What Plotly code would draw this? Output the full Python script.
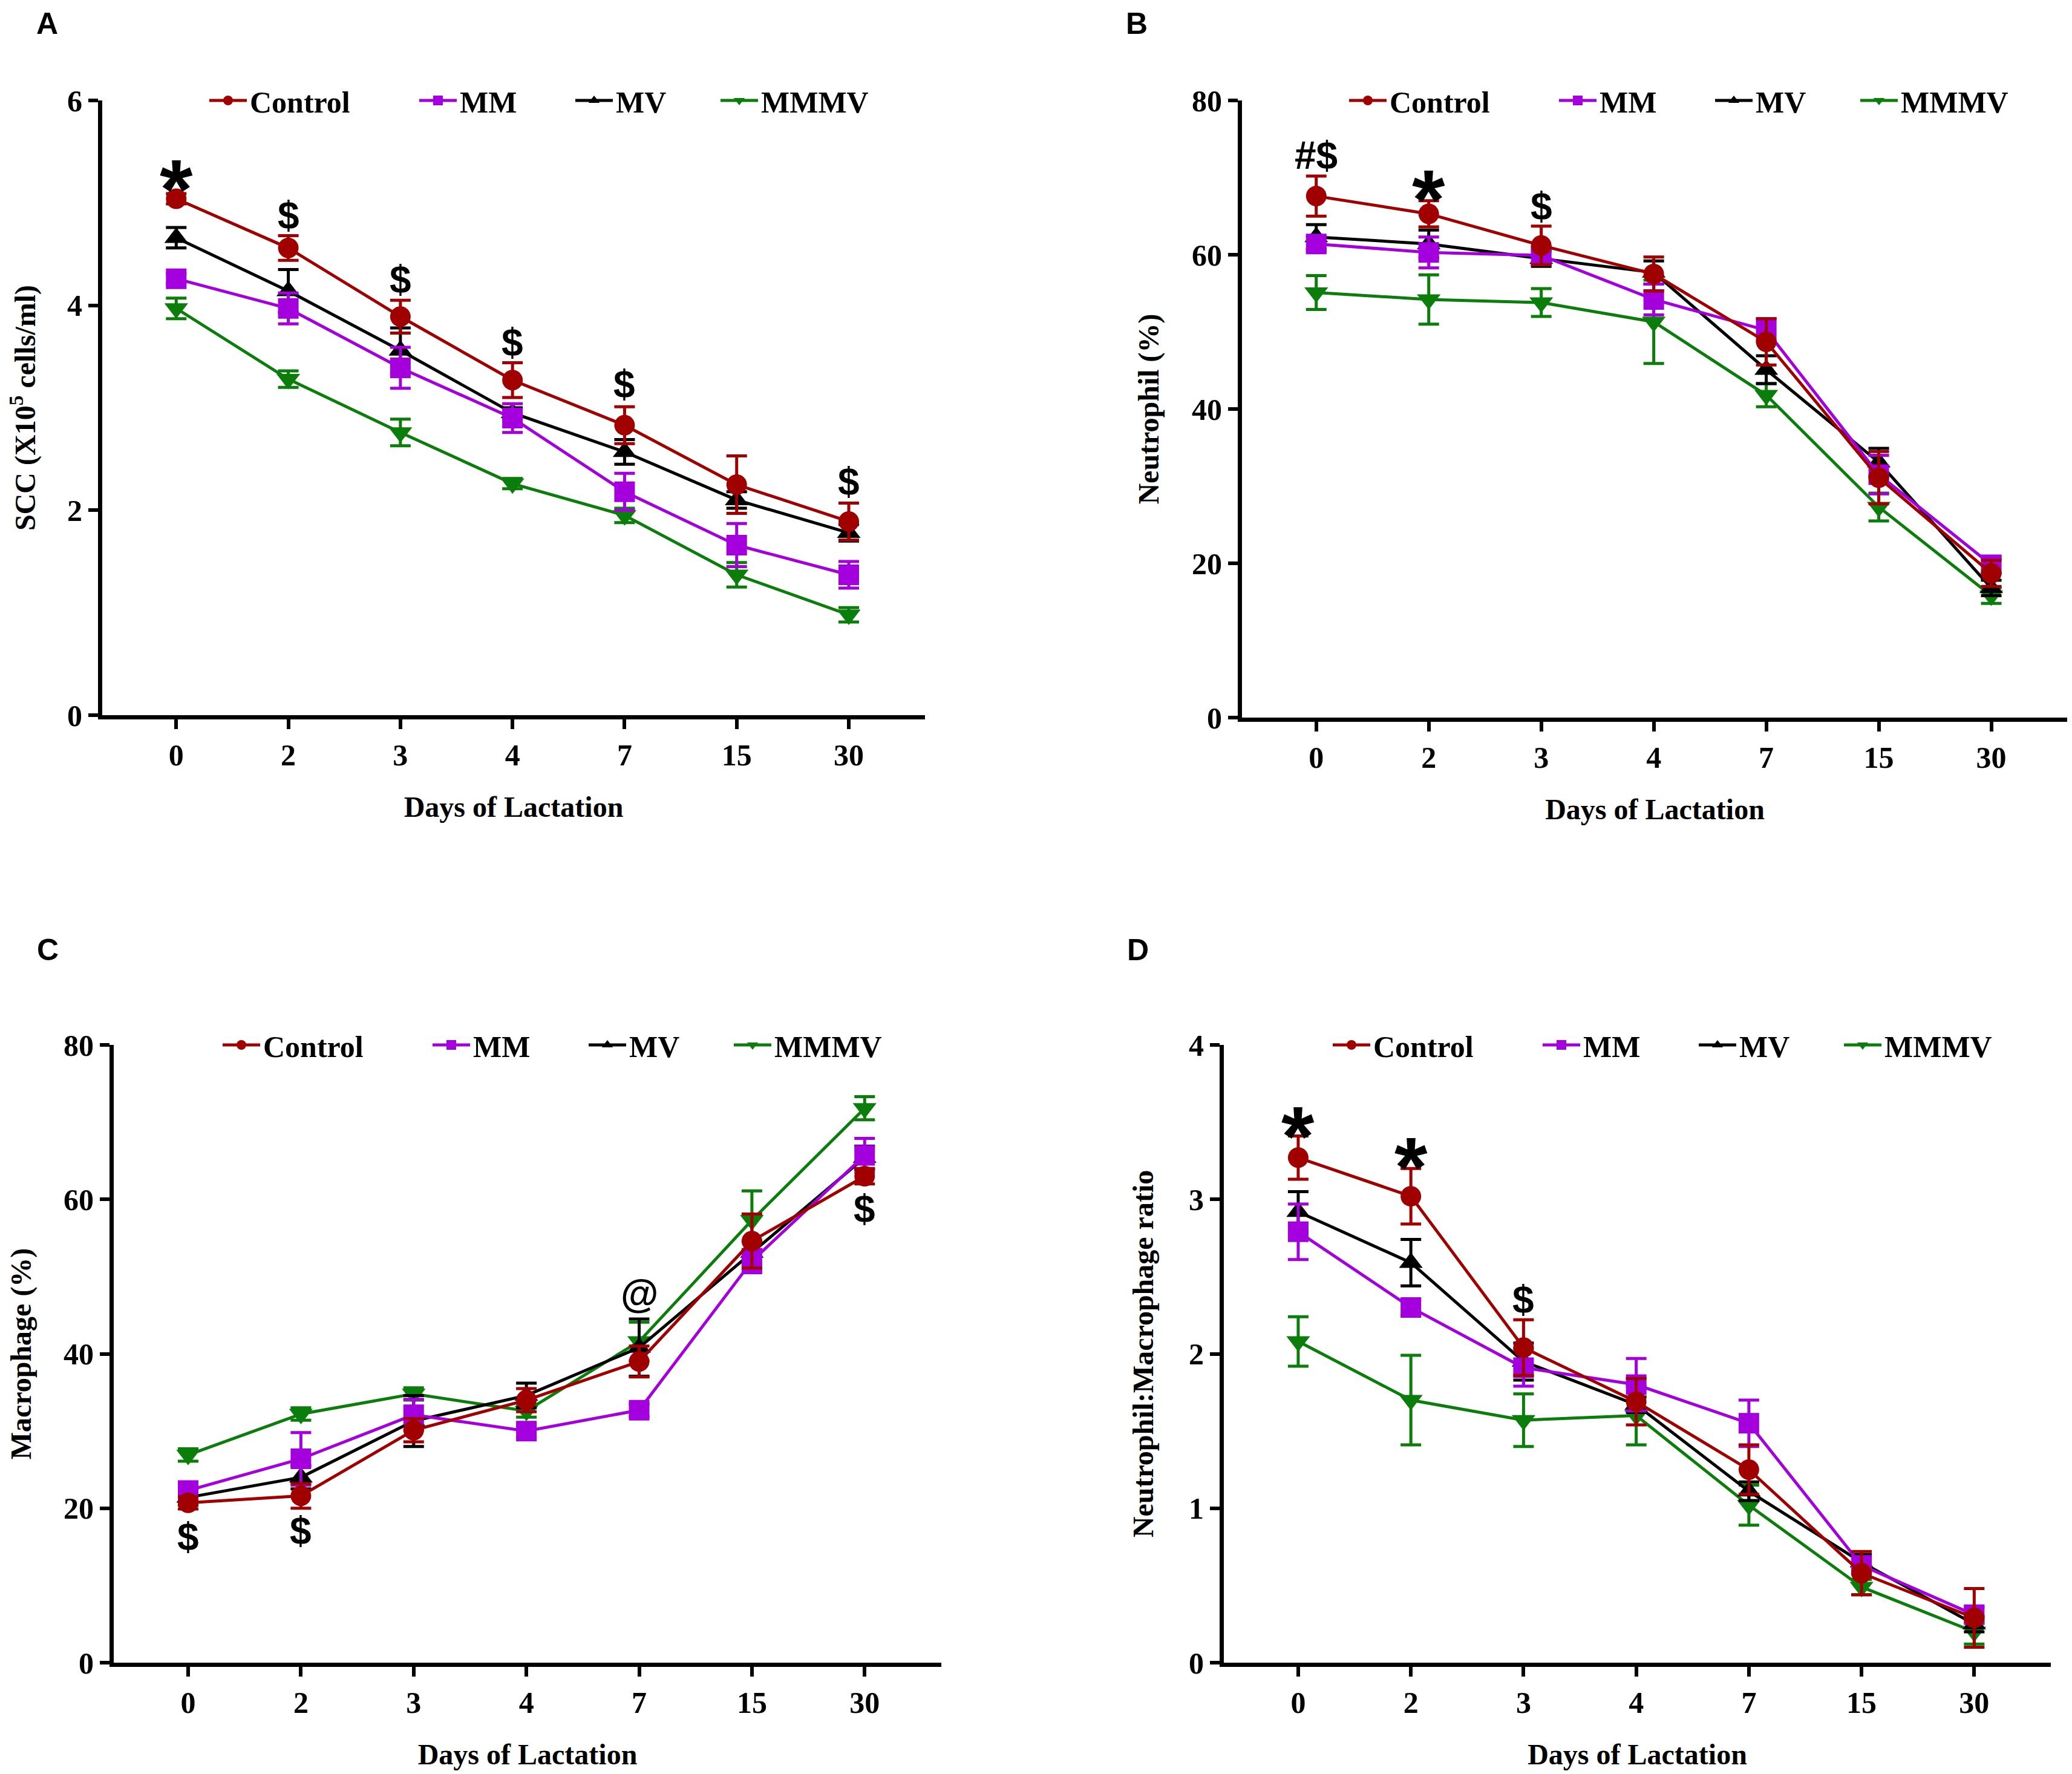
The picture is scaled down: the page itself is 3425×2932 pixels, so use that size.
import plotly.graph_objects as go

# days of lactation (category ticks) and groups
days = ["0", "2", "3", "4", "7", "15", "30"]
groups = ["Control", "MM", "MV", "MMMV"]
colors = ["#A00000", "#A300DD", "#000000", "#0B7D0B"]
symbols = ["circle", "square", "triangle-up", "triangle-down"]

# A - SCC (X10^5 cells/ml)
scc_control = [5.04, 4.56, 3.89, 3.27, 2.83, 2.25, 1.89]
scc_control_err = [0.05, 0.12, 0.16, 0.17, 0.18, 0.28, 0.18]
scc_mm = [4.26, 3.97, 3.39, 2.90, 2.18, 1.66, 1.37]
scc_mm_err = [0.05, 0.15, 0.20, 0.14, 0.18, 0.21, 0.13]
scc_mv = [4.66, 4.14, 3.56, 2.95, 2.57, 2.10, 1.78]
scc_mv_err = [0.10, 0.21, 0.22, 0.05, 0.12, 0.08, 0.08]
scc_mmmv = [3.97, 3.28, 2.76, 2.26, 1.95, 1.37, 0.98]
scc_mmmv_err = [0.10, 0.08, 0.13, 0.05, 0.07, 0.12, 0.07]

# B - Neutrophil (%)
neu_control = [67.6, 65.3, 61.2, 57.5, 48.7, 31.1, 18.7]
neu_control_err = [2.6, 1.7, 2.5, 2.2, 3.0, 3.4, 1.7]
neu_mm = [61.4, 60.3, 59.9, 54.2, 50.2, 31.5, 19.8]
neu_mm_err = [1.0, 2.0, 1.0, 2.0, 1.5, 2.5, 1.0]
neu_mv = [62.3, 61.4, 59.5, 57.7, 45.1, 33.1, 16.8]
neu_mv_err = [1.6, 1.8, 1.0, 1.5, 1.8, 1.8, 1.0]
neu_mmmv = [55.1, 54.2, 53.8, 51.3, 41.8, 27.3, 15.8]
neu_mmmv_err = [2.2, 3.2, 1.8, 5.4, 1.5, 1.8, 1.0]

# C - Macrophage (%)
mac_control = [20.7, 21.6, 30.1, 34.0, 39.0, 54.6, 63.0]
mac_control_err = [0.8, 1.6, 1.5, 1.5, 2.0, 3.5, 1.0]
mac_mm = [22.3, 26.4, 32.1, 30.0, 32.7, 52.0, 65.7]
mac_mm_err = [0.8, 3.4, 2.0, 0.8, 0.8, 1.5, 2.2]
mac_mv = [21.4, 24.0, 31.3, 34.6, 40.8, 53.1, 65.4]
mac_mv_err = [1.0, 1.5, 3.3, 1.6, 3.7, 1.5, 1.5]
mac_mmmv = [26.9, 32.2, 34.8, 32.6, 41.6, 57.3, 71.8]
mac_mmmv_err = [0.8, 0.8, 0.8, 0.8, 2.5, 3.8, 1.5]

# D - Neutrophil:Macrophage ratio
rat_control = [3.27, 3.02, 2.04, 1.69, 1.25, 0.58, 0.29]
rat_control_err = [0.14, 0.18, 0.18, 0.15, 0.16, 0.14, 0.19]
rat_mm = [2.79, 2.30, 1.91, 1.80, 1.55, 0.63, 0.31]
rat_mm_err = [0.18, 0.05, 0.12, 0.17, 0.15, 0.05, 0.05]
rat_mv = [2.92, 2.59, 1.95, 1.67, 1.11, 0.65, 0.25]
rat_mv_err = [0.13, 0.15, 0.12, 0.05, 0.06, 0.05, 0.05]
rat_mmmv = [2.08, 1.70, 1.57, 1.60, 1.02, 0.49, 0.20]
rat_mmmv_err = [0.16, 0.29, 0.17, 0.19, 0.13, 0.05, 0.08]

# significance marks: (day index, y, text)
marks_a = [(0, 5.30, "*"), (1, 4.88, "$"), (2, 4.25, "$"), (3, 3.64, "$"), (4, 3.23, "$"), (6, 2.28, "$")]
marks_b = [(0, 72.9, "#$"), (1, 69.4, "*"), (2, 66.3, "$")]
marks_c = [(0, 16.3, "$"), (1, 17.1, "$"), (4, 47.8, "@"), (6, 58.8, "$")]
marks_d = [(0, 3.52, "*"), (1, 3.32, "*"), (2, 2.35, "$")]

W, H = 3425, 2932
OFF = 8  # page body margin
panels = [
    dict(letter="A", series=[scc_control, scc_mm, scc_mv, scc_mmmv],
         errs=[scc_control_err, scc_mm_err, scc_mv_err, scc_mmmv_err], marks=marks_a,
         ytitle="SCC (X10<sup>5</sup> cells/ml)", yticks=[0, 2, 4, 6],
         xdom=[169, 1529], ydom=[166, 1182], leg_x=319, letter_xy=(78, 39), standoff=45),
    dict(letter="B", series=[neu_control, neu_mm, neu_mv, neu_mmmv],
         errs=[neu_control_err, neu_mm_err, neu_mv_err, neu_mmmv_err], marks=marks_b,
         ytitle="Neutrophil (%)", yticks=[0, 20, 40, 60, 80],
         xdom=[2053, 3418], ydom=[166, 1186], leg_x=2203, letter_xy=(1879, 39), standoff=42),
    dict(letter="C", series=[mac_control, mac_mm, mac_mv, mac_mmmv],
         errs=[mac_control_err, mac_mm_err, mac_mv_err, mac_mmmv_err], marks=marks_c,
         ytitle="Macrophage (%)", yticks=[0, 20, 40, 60, 80],
         xdom=[188, 1556], ydom=[1727, 2748], leg_x=341, letter_xy=(79, 1570), standoff=63),
    dict(letter="D", series=[rat_control, rat_mm, rat_mv, rat_mmmv],
         errs=[rat_control_err, rat_mm_err, rat_mv_err, rat_mmmv_err], marks=marks_d,
         ytitle="Neutrophil:Macrophage ratio", yticks=[0, 1, 2, 3, 4],
         xdom=[2023, 3390], ydom=[1727, 2748], leg_x=2176, letter_xy=(1881, 1570), standoff=46),
]
legend_offsets = [0, 347, 605, 845]


def px_x(v):
    return (v - OFF) / W


def px_y(v):
    return 1 - (v - OFF) / H


serif = "Liberation Serif"
sans = "Liberation Sans"
xpos = list(range(len(days)))

fig = go.Figure()
layout = dict(width=W, height=H, margin=dict(l=0, r=0, t=0, b=0, autoexpand=False),
              paper_bgcolor="white", plot_bgcolor="white", showlegend=True, annotations=[])

for p, pan in enumerate(panels):
    sfx = "" if p == 0 else str(p + 1)
    # draw order: MMMV, MV, MM, Control on top
    for g in [3, 2, 1, 0]:
        leg_id = "legend" if p == 0 and g == 0 else "legend" + str(4 * p + g + 1)
        fig.add_trace(go.Scatter(
            x=xpos, y=pan["series"][g], name=groups[g], mode="lines+markers",
            line=dict(color=colors[g], width=5),
            marker=dict(symbol=symbols[g], size=34, color=colors[g]),
            error_y=dict(type="data", array=pan["errs"][g], color=colors[g], thickness=5, width=17),
            xaxis="x" + sfx, yaxis="y" + sfx, legend=leg_id, cliponaxis=False,
        ))
        layout[leg_id] = dict(
            x=px_x(pan["leg_x"] + legend_offsets[g] + 22), y=px_y(pan["ydom"][0]),
            xanchor="left", yanchor="middle", orientation="h", itemwidth=62,
            bgcolor="rgba(0,0,0,0)", font=dict(family=serif, size=50, color="black", weight="bold"),
        )
    layout["xaxis" + sfx] = dict(
        domain=[px_x(pan["xdom"][0]), px_x(pan["xdom"][1])], anchor="y" + sfx,
        range=[-0.66, 6.68], tickvals=xpos, ticktext=days,
        showline=True, linecolor="black", linewidth=7, ticks="outside", ticklen=16,
        tickwidth=6, tickcolor="black", ticklabelstandoff=0,
        tickfont=dict(family=serif, size=50, color="black", weight="bold"),
        title=dict(text="Days of Lactation", standoff=44,
                   font=dict(family=serif, size=48, color="black", weight="bold")),
        showgrid=False, zeroline=False,
    )
    layout["yaxis" + sfx] = dict(
        domain=[px_y(pan["ydom"][1]), px_y(pan["ydom"][0])], anchor="x" + sfx,
        range=[0, pan["yticks"][-1]], tickvals=pan["yticks"],
        showline=True, linecolor="black", linewidth=7, ticks="outside", ticklen=16,
        tickwidth=6, tickcolor="black",
        tickfont=dict(family=serif, size=50, color="black", weight="bold"),
        title=dict(text=pan["ytitle"], standoff=pan["standoff"],
                   font=dict(family=serif, size=48, color="black", weight="bold")),
        showgrid=False, zeroline=False,
    )
    for xi, yv, txt in pan["marks"]:
        big = txt == "*"
        layout["annotations"].append(dict(
            x=xi, y=yv, xref="x" + sfx, yref="y" + sfx, text=txt, showarrow=False,
            xanchor="center", yanchor="middle", yshift=-28 if big else 0,
            font=dict(family=sans, size=140 if big else 64, color="black", weight="bold"),
        ))
    lx, ly = pan["letter_xy"]
    layout["annotations"].append(dict(
        x=px_x(lx), y=px_y(ly), xref="paper", yref="paper", text=pan["letter"],
        showarrow=False, xanchor="center", yanchor="middle",
        font=dict(family=sans, size=50, color="black", weight="bold"),
    ))

fig.update_layout(**layout)
fig.write_html("out.html")
